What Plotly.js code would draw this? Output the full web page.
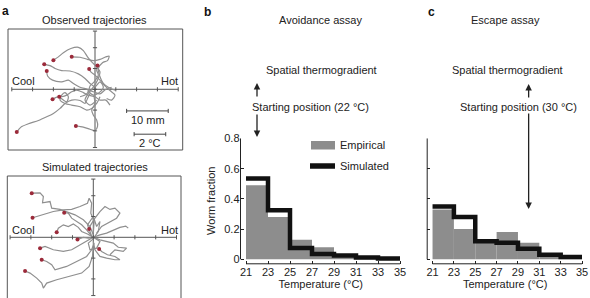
<!DOCTYPE html>
<html>
<head>
<meta charset="utf-8">
<script src="https://cdn.plot.ly/plotly-3.0.1.min.js"></script>
<style>
  html, body { margin: 0; padding: 0; background: #fff; }
  #chart { width: 590px; height: 298px; }
</style>
</head>
<body>
<div id="chart"></div>
<script>
// ---- histogram data (worm fraction per 2 °C bin) ----
const binEdges = [21, 23, 25, 27, 29, 31, 33, 35];
const tempTicks = [21, 23, 25, 27, 29, 31, 33, 35];
const fracTicks = [0, 0.2, 0.4, 0.6, 0.8];
const fracTickText = ['0', '0.2', '0.4', '0.6', '0.8'];

const avoidEmpirical = [0.49, 0.28, 0.13, 0.08, 0.02, 0.01, 0.008];
const avoidSimulated = [0.535, 0.325, 0.075, 0.035, 0.025, 0.012, 0.005];
const escapeEmpirical = [0.33, 0.20, 0.11, 0.18, 0.11, 0.02, 0.01];
const escapeSimulated = [0.35, 0.28, 0.12, 0.11, 0.07, 0.03, 0.015];

const startAvoid = 22;   // °C
const startEscape = 30;  // °C

// ---- trajectories (mm, x toward hot side, y up); first point = start ----
const observedX = [
  [-10.0, -8.8, -7.6, -5.8, -4.0, -2.8, -1.8, -0.8, 0.4, 1.2, 0.6, -0.4, -1.6, -2.4, -1.2, 0.4],
  [-5.6, -3.6, -1.8, -0.4, 1.2, 2.6, 3.4, 3.0, 1.8, 0.8, 1.2, 2.0, 3.2, 4.8],
  [-12.2, -10.8, -9.6, -8.0, -6.0, -4.0, -2.4, -1.2, 0.0, 1.2, 2.0, 1.0, -0.4, -1.8],
  [-11.6, -11.4, -10.2, -8.0, -6.4, -5.2, -3.6, -1.8, -0.4, 1.2, 2.6, 4.0],
  [-1.4, -1.0, 0.0, 1.2, 2.2, 3.6, 4.8, 4.0, 2.8],
  [0.6, 0.4, 0.8, -0.2, -1.2, -1.6, -2.4, -3.6],
  [-10.2, -9.2, -8.0, -6.8, -5.6, -4.4, -2.8, -1.6, 0.0, 1.2, 2.6, 3.6],
  [-8.6, -7.6, -6.8, -6.4, -7.2, -8.0, -8.4, -7.2, -5.6, -3.6, -2.0, -0.8, 0.4, 1.2],
  [-4.6, -2.8, -1.2, 0.0, 0.6, 0.4, -0.4, -0.8, 0.0, -0.2, 0.0],
  [-18.8, -17.8, -16.0, -13.6, -11.6, -10.0, -8.4, -7.2, -5.6, -3.6, -2.4, -1.8, -1.2]
];
const observedY = [
  [7.0, 7.8, 8.8, 9.8, 10.1, 9.3, 7.8, 6.6, 5.4, 4.2, 2.2, 0.5, -1.0, -2.6, -3.8, -2.6],
  [7.8, 7.7, 7.2, 6.9, 7.2, 7.8, 8.0, 6.9, 6.4, 5.0, 3.0, 1.4, 0.5, -0.2],
  [6.0, 5.7, 5.0, 4.5, 4.4, 3.7, 2.6, 1.4, 0.6, 1.8, 0.5, -0.8, -1.4, -0.3],
  [4.4, 3.2, 2.2, 1.8, 2.2, 1.4, 0.5, 0.0, -0.6, -1.1, 0.0, 0.5],
  [4.9, 4.2, 3.4, 2.2, 1.0, -0.3, -1.4, -2.6, -2.2],
  [5.7, 4.6, 3.4, 1.8, 0.8, -0.6, -1.4, -1.8],
  [-2.4, -1.9, -1.8, -1.4, -0.6, -0.2, -0.8, -1.4, -1.8, -2.6, -2.6, -3.8],
  [-1.8, -2.6, -3.0, -1.8, -0.8, -1.4, -2.6, -3.4, -3.8, -4.2, -5.0, -4.6, -3.4, -1.8],
  [-8.8, -9.1, -9.6, -9.9, -9.0, -7.4, -6.2, -5.0, -3.4, -1.8, -0.2],
  [-10.3, -9.1, -8.3, -7.5, -6.6, -5.8, -4.6, -3.4, -2.6, -2.7, -3.4, -2.2, -1.0]
];
const simulatedX = [
  [-14.8, -12.8, -12.0, -12.2, -10.4, -10.0, -8.0, -6.4, -4.4, -2.4, -0.8, 0.0],
  [-14.6, -12.0, -9.6, -7.2, -5.2, -3.2, -1.4, -1.0, -0.4, -0.6, 0.2, 0.0],
  [-7.0, -6.0, -5.2, -4.0, -2.8, -1.6, -0.4, -1.4, 0.0, 0.8, 1.6, 1.2, 0.2],
  [-8.8, -8.4, -7.2, -6.0, -4.8, -3.6, -2.8, -1.4, 0.0, 1.6, 3.2, 4.8, 6.4, 7.8, 8.4],
  [-3.8, -2.4, -1.2, 0.2, 1.6, 3.2, 4.8, 6.0, 8.0, 7.2, 5.2, 4.0],
  [-1.0, -0.6, 0.4, 1.6, 2.8, 4.0, 5.2, 6.4, 5.6, 4.0, 2.0, 0.8],
  [1.4, 2.0, 3.4, 5.2, 6.4, 5.2, 3.2, 1.6, 0.4, 0.0],
  [-12.8, -11.6, -9.6, -7.2, -5.2, -3.2, -1.4, 0.0, 1.6, 0.8, -0.8, -1.2, 0.2],
  [-12.4, -11.2, -10.0, -9.2, -6.4, -4.0, -1.6, -0.4, 0.2],
  [-16.4, -15.2, -13.6, -12.4, -12.0, -11.2, -8.8, -5.6, -2.8, -1.0, -0.2, 0.0]
];
const simulatedY = [
  [10.6, 10.7, 9.8, 8.3, 8.6, 7.0, 6.7, 6.2, 5.4, 4.2, 2.6, 0.6],
  [4.7, 5.4, 6.2, 6.6, 6.7, 7.4, 8.2, 9.4, 8.2, 5.8, 3.8, 1.0],
  [5.9, 5.8, 4.6, 3.8, 3.0, 1.8, 0.3, 3.0, 5.0, 2.6, 3.8, 1.4, 0.0],
  [1.2, 2.2, 3.0, 2.6, 3.2, 2.4, 1.4, 0.8, 0.0, 0.6, 1.0, 1.8, 2.4, 2.7, 2.2],
  [-0.5, 0.0, -0.2, 0.0, -0.6, -1.0, -1.4, -2.4, -2.6, -3.4, -3.0, -4.2],
  [2.0, 3.0, 4.6, 6.2, 7.4, 6.7, 7.0, 5.8, 4.6, 3.8, 2.6, 1.0],
  [-2.8, -3.4, -4.2, -4.6, -5.4, -5.4, -5.0, -4.6, -3.0, -1.0],
  [-2.6, -2.2, -3.0, -3.4, -3.0, -1.8, -0.8, 0.0, -1.0, -2.6, -3.0, -1.4, -0.2],
  [-5.4, -5.8, -6.6, -7.8, -7.0, -5.8, -4.6, -3.0, -1.4],
  [-8.1, -8.6, -9.8, -11.0, -12.2, -11.0, -10.2, -9.4, -8.6, -7.0, -4.6, -2.2]
];

// arena cross: tick positions (mm)
const crossTicksX = [-20, -15, -10, -5, 0, 5, 10, 15, 20];
const crossTicksY = [-14, -10, -5, 0, 5, 10, 14];

// ---- helpers: pixel -> paper ----
const W = 590, H = 298;
const px = x => x / W;
const py = y => 1 - y / H;
const FONT = 'Liberation Sans, Arial, Helvetica, sans-serif';
const INK = '#222';
const BAR_GRAY = '#8d8d8d';
const TRACK_GRAY = '#8f8f8f';
const DOT_RED = '#9b2a3a';

const binCenters = binEdges.slice(0, -1).map((e, i) => (e + binEdges[i + 1]) / 2);
const stepY = arr => arr.concat([arr[arr.length - 1]]);

const traces = [];

// histograms
function histTraces(emp, sim, xa, ya) {
  traces.push({
    type: 'bar', x: binCenters, y: emp, width: 2,
    marker: { color: BAR_GRAY, line: { width: 0 } },
    xaxis: xa, yaxis: ya, hoverinfo: 'x+y', showlegend: false
  });
  traces.push({
    type: 'scatter', mode: 'lines', x: binEdges, y: stepY(sim),
    line: { shape: 'hv', color: '#111', width: 4.5 },
    xaxis: xa, yaxis: ya, showlegend: false
  });
}
histTraces(avoidEmpirical, avoidSimulated, 'x', 'y');
histTraces(escapeEmpirical, escapeSimulated, 'x2', 'y2');

// trajectories
function trackTraces(xs, ys, xa, ya, shape) {
  xs.forEach((tx, i) => {
    traces.push({
      type: 'scatter', mode: 'lines', x: tx, y: ys[i],
      line: { color: TRACK_GRAY, width: 1.2, shape: shape, smoothing: 0.8 },
      xaxis: xa, yaxis: ya, showlegend: false, hoverinfo: 'skip'
    });
  });
  traces.push({
    type: 'scatter', mode: 'markers',
    x: xs.map(t => t[0]), y: ys.map(t => t[0]),
    marker: { color: DOT_RED, size: 4 },
    xaxis: xa, yaxis: ya, showlegend: false, cliponaxis: false
  });
}
trackTraces(observedX, observedY, 'x3', 'y3', 'spline');
trackTraces(simulatedX, simulatedY, 'x4', 'y4', 'linear');

// ---- axes ----
const histY = [py(263.8), py(137.7)];
const histYRange = [-0.03, 0.805];
const histXRange = [20.5, 35.1];
const tickFont = { family: FONT, size: 11, color: INK };

function tempAxis(domain, anchor) {
  return {
    domain: domain, range: histXRange, anchor: anchor,
    tickvals: tempTicks, ticks: 'inside', ticklen: 3, tickwidth: 1, tickcolor: INK,
    showline: false, zeroline: false, showgrid: false, tickfont: tickFont,
    title: { text: 'Temperature (°C)', font: { family: FONT, size: 11, color: INK }, standoff: 3 },
    fixedrange: true
  };
}
function fracAxis(anchor, labels) {
  return {
    domain: histY, range: histYRange, anchor: anchor,
    tickvals: fracTicks, ticktext: fracTickText, showticklabels: labels,
    ticks: 'inside', ticklen: 3, tickwidth: 1, tickcolor: INK,
    showline: false, zeroline: false, showgrid: false, tickfont: tickFont,
    title: labels ? { text: 'Worm fraction', font: { family: FONT, size: 11, color: INK }, standoff: 6 } : { text: '' },
    fixedrange: true
  };
}
const hidden = (domain, range, anchor) => ({
  domain: domain, range: range, anchor: anchor, visible: false, fixedrange: true
});

// ---- shapes ----
const shapes = [];
function axisLines(xa, ya) {
  shapes.push({ type: 'line', xref: xa + ' domain', yref: ya, x0: 0, x1: 0, y0: 0, y1: 0.8,
    line: { color: INK, width: 1 } });
  shapes.push({ type: 'line', xref: xa, yref: ya + ' domain', x0: 21, x1: 35, y0: 0, y1: 0,
    line: { color: INK, width: 1 } });
}
axisLines('x', 'y');
axisLines('x2', 'y2');

// arena boxes
shapes.push({ type: 'rect', xref: 'paper', yref: 'paper', x0: px(8), x1: px(182.7), y0: py(150), y1: py(29),
  line: { color: '#555', width: 1 } });
shapes.push({ type: 'rect', xref: 'paper', yref: 'paper', x0: px(7.3), x1: px(181), y0: py(302), y1: py(176),
  line: { color: '#555', width: 1 } });

// arena crosses with ticks
function cross(xa, ya) {
  const c = { color: '#555', width: 1 };
  shapes.push({ type: 'line', xref: xa, yref: ya, x0: -20, x1: 20, y0: 0, y1: 0, line: c, layer: 'below' });
  shapes.push({ type: 'line', xref: xa, yref: ya, x0: 0, x1: 0, y0: -14, y1: 14, line: c, layer: 'below' });
  crossTicksX.forEach(t => shapes.push({ type: 'line', xref: xa, yref: ya, x0: t, x1: t, y0: -0.5, y1: 0.5, line: c }));
  crossTicksY.forEach(t => shapes.push({ type: 'line', xref: xa, yref: ya, x0: -0.5, x1: 0.5, y0: t, y1: t, line: c }));
}
cross('x3', 'y3');
cross('x4', 'y4');

// scale bars (10 mm and 2 °C)
function scaleBar(x0, x1, y) {
  const c = { color: '#444', width: 1 };
  shapes.push({ type: 'line', xref: 'x3', yref: 'y3', x0: x0, x1: x1, y0: y, y1: y, line: c });
  shapes.push({ type: 'line', xref: 'x3', yref: 'y3', x0: x0, x1: x0, y0: y - 0.5, y1: y + 0.5, line: c });
  shapes.push({ type: 'line', xref: 'x3', yref: 'y3', x0: x1, x1: x1, y0: y - 0.5, y1: y + 0.5, line: c });
}
scaleBar(7.6, 17.6, -5.2);
scaleBar(9.4, 17.0, -10.8);

// manual legend (panel b)
shapes.push({ type: 'rect', xref: 'paper', yref: 'paper', x0: px(311), x1: px(335), y0: py(149.5), y1: py(141),
  fillcolor: BAR_GRAY, line: { width: 0 } });
shapes.push({ type: 'line', xref: 'paper', yref: 'paper', x0: px(310), x1: px(335), y0: py(166), y1: py(166),
  line: { color: '#111', width: 5.5 } });

// ---- annotations ----
const ann = [];
function txt(text, x, y, opts) {
  ann.push(Object.assign({
    text: text, xref: 'paper', yref: 'paper', x: px(x), y: py(y),
    xanchor: 'center', yanchor: 'middle', showarrow: false,
    font: { family: FONT, size: 11, color: INK }
  }, opts || {}));
}
function bold(text, x, y) {
  txt('<b>' + text + '</b>', x, y, { xanchor: 'left', font: { family: FONT, size: 12, color: '#111' } });
}
bold('a', 0, 11);
bold('b', 201.5, 12.5);
bold('c', 426, 12.5);

txt('Observed trajectories', 95, 20);
txt('Simulated trajectories', 95, 166.5);
txt('Cool', 10, 81, { xanchor: 'left' });
txt('Hot', 179.5, 81, { xanchor: 'right' });
txt('Cool', 10, 230, { xanchor: 'left' });
txt('Hot', 179.5, 230, { xanchor: 'right' });
txt('10 mm', 147.5, 119.5);
txt('2 °C', 150, 143);

txt('Avoidance assay', 320, 20);
txt('Spatial thermogradient', 321, 70);
txt('Starting position (' + startAvoid + ' °C)', 310.5, 107);
txt('Empirical', 337.5, 145, { xanchor: 'left' });
txt('Simulated', 337.5, 166, { xanchor: 'left' });

txt('Escape assay', 505, 20);
txt('Spatial thermogradient', 507, 70);
txt('Starting position (' + startEscape + ' °C)', 518, 107);

// arrows at the starting temperatures
function arrow(xa, xval, tipY, tailY) {
  ann.push({
    text: '', xref: xa, yref: 'paper', x: xval, y: py(tipY),
    ax: 0, ay: tailY - tipY, showarrow: true,
    arrowhead: 2, arrowsize: 1, arrowwidth: 1.3, arrowcolor: INK
  });
}
arrow('x', startAvoid, 83, 98);
arrow('x', startAvoid, 137, 113);
arrow('x2', startEscape, 84, 99);
arrow('x2', startEscape, 209, 112);

const layout = {
  width: W, height: H,
  margin: { l: 0, r: 0, t: 0, b: 0 },
  paper_bgcolor: '#fff', plot_bgcolor: 'rgba(0,0,0,0)',
  font: { family: FONT, size: 11, color: INK },
  showlegend: false,
  barmode: 'overlay',
  xaxis: tempAxis([px(240.5), px(401.1)], 'y'),
  yaxis: fracAxis('x', true),
  xaxis2: tempAxis([px(427.2), px(583.1)], 'y2'),
  yaxis2: fracAxis('x2', false),
  xaxis3: hidden([px(8), px(182.7)], [-20.91, 21.08], 'y3'),
  yaxis3: hidden([py(150), py(29)], [-14.6, 14.5], 'x3'),
  xaxis4: hidden([px(7.3), px(181)], [-20.67, 21.08], 'y4'),
  yaxis4: hidden([0, py(176)], [-14.59, 14.74], 'x4'),
  shapes: shapes,
  annotations: ann
};

Plotly.newPlot('chart', traces, layout, { displayModeBar: false, staticPlot: true });
</script>
</body>
</html>
